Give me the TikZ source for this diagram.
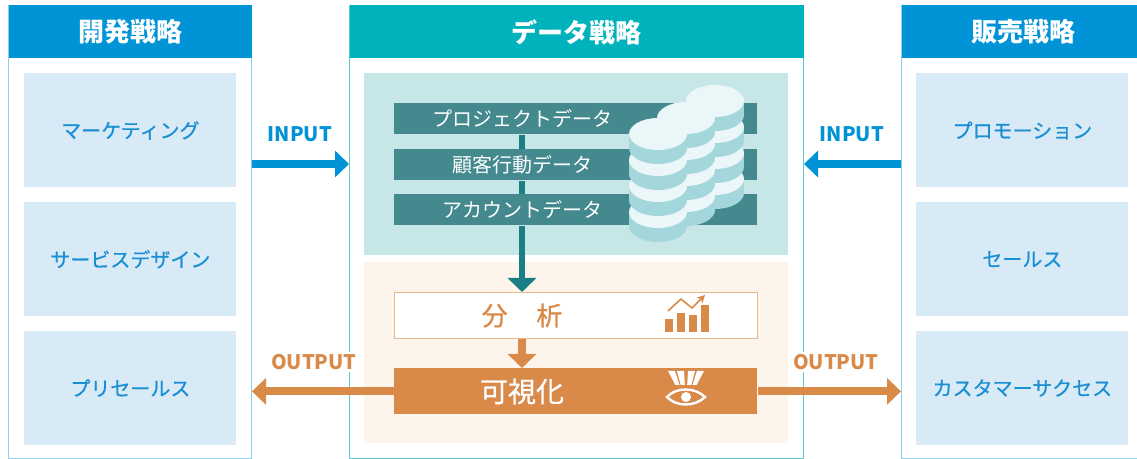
\documentclass[tikz,border=0pt]{standalone}
\usepackage{fontspec}
\setmainfont{Noto Sans CJK JP}
\newfontfamily\medfont{Noto Sans CJK JP}[FakeBold=0.7]
\usetikzlibrary{arrows.meta, positioning, calc}

\definecolor{headblue}{HTML}{0094D6}
\definecolor{headteal}{HTML}{00B2BC}
\definecolor{edgeblue}{HTML}{8ECFEC}
\definecolor{edgecyan}{HTML}{5EC8CF}
\definecolor{itembg}{HTML}{D9EAF7}
\definecolor{itemtxt}{HTML}{1A8FD3}
\definecolor{storebg}{HTML}{C7E6E8}
\definecolor{barteal}{HTML}{43898E}
\definecolor{spineteal}{HTML}{1A7F84}
\definecolor{creambg}{HTML}{FDF5EC}
\definecolor{visorange}{HTML}{D98948}
\definecolor{anaedge}{HTML}{E9B98C}
\definecolor{disctop}{HTML}{EAF6F7}
\definecolor{discside}{HTML}{A3D7DB}

\begin{document}
\begin{tikzpicture}[x=0.5pt, y=-0.5pt, node distance=7pt,
    >={Triangle[width=13pt, length=7pt]},
    panel/.style={draw=#1, line width=0.5pt, anchor=north west, inner sep=0pt,
      minimum width=121.5pt, minimum height=226.5pt},
    header/.style={fill=#1, anchor=north, inner sep=0pt, minimum width=121.5pt,
      minimum height=26.5pt, text=white, font=\bfseries\fontsize{13}{13}\selectfont},
    item/.style={fill=itembg, text=itemtxt, anchor=north west, inner sep=0pt,
      minimum width=106pt, minimum height=57pt, font=\medfont\fontsize{10}{10}\selectfont},
    zone/.style={fill=#1, anchor=north west, inner sep=0pt, minimum width=212pt},
    bar/.style={fill=barteal, anchor=north west, inner sep=0pt,
      minimum width=181.5pt, minimum height=15.5pt},
    bartext/.style={text=white, inner sep=0pt, font=\fontsize{10}{10}\selectfont},
    stepbox/.style={anchor=north west, inner sep=0pt, minimum width=181.5pt,
      minimum height=23pt},
    spineline/.style={draw=spineteal, line width=3pt},
    inarrow/.style={draw=headblue, line width=4pt},
    outarrow/.style={draw=visorange, line width=4pt},
    iolabel/.style={inner sep=1pt, font=\bfseries\fontsize{10}{10}\selectfont}]

  \useasboundingbox (0,0) rectangle (1137,459);

  % three columns
  \node[panel=edgeblue] (dev) at (8,5) {};
  \node[panel=edgecyan, minimum width=227pt] (data) at (349,5) {};
  \node[panel=edgeblue] (sales) at (901,5) {};

  \node[header=headblue] (devhead) at (dev.north) {開発戦略};
  \node[header=headteal, minimum width=227pt] (datahead) at (data.north) {データ戦略};
  \node[header=headblue] (saleshead) at (sales.north) {販売戦略};

  % left and right items
  \node[item] (mkt) at (24,73) {マーケティング};
  \node[item, below=of mkt] (svc) {サービスデザイン};
  \node[item, below=of svc] (presales) {プリセールス};

  \node[item] (promo) at (916,73) {プロモーション};
  \node[item, below=of promo] (sell) {セールス};
  \node[item, below=of sell] (success) {カスタマーサクセス};

  % data column
  \node[zone=storebg, minimum height=91pt] (store) at (364,73) {};
  \node[zone=creambg, minimum height=90.5pt] (work) at (364,262) {};

  \coordinate (spine) at (522,0);

  \node[bar] (proj) at (394,103) {};
  \node[bar] (cust) at (394,149) {};
  \node[bar] (acct) at (394,194) {};

  \node[stepbox, draw=anaedge, line width=0.6pt, fill=white] (ana) at (394,292) {};
  \node[stepbox, fill=visorange] (vis) at (394,368) {};

  \draw[spineline] (proj.south -| spine) -- (cust.north -| spine);
  \draw[spineline] (cust.south -| spine) -- (acct.north -| spine);
  \draw[spineline, ->, >={Triangle[width=14pt, length=7pt]}]
    (acct.south -| spine) -- (ana.north -| spine);
  \draw[outarrow, ->, >={Triangle[width=14pt, length=7pt]}]
    (ana.south -| spine) -- (vis.north -| spine);

  \node[bartext] at (proj -| spine) {プロジェクトデータ};
  \node[bartext] at (cust -| spine) {顧客行動データ};
  \node[bartext] at (acct -| spine) {アカウントデータ};
  \node[text=visorange, inner sep=0pt, font=\medfont\fontsize{13}{13}\selectfont]
    at (ana -| spine) {分\hspace{1.1em}析};
  \node[text=white, inner sep=0pt, font=\medfont\fontsize{14}{14}\selectfont]
    at (vis -| spine) {可視化};

  % database stack
  \foreach \cx/\cy in {715/101, 686/118, 658/134}{
    \foreach \k in {3,2,1,0}{
      \fill[discside] (\cx-29,\cy+26*\k) rectangle (\cx+29,\cy+26*\k+14);
      \fill[discside] (\cx,\cy+26*\k+14) ellipse (29 and 16);
      \fill[disctop] (\cx,\cy+26*\k) ellipse (29 and 16);
    }
  }

  % chart icon
  \foreach \x/\t in {665/319, 677/313, 689/315, 701/305}
    \fill[visorange] (\x,\t) rectangle (\x+8,332);
  \draw[visorange, line width=0.8pt, -{Stealth[length=4pt, width=4pt]}]
    (668,311) -- (681,299) -- (692,308) -- (705,295);

  % eye icon: rays narrow towards the eye
  \foreach \l/\r in {668/675, 677/684, 688/695, 697/704}{
    \fill[white] (\l,371) -- (\r,371) -- ({\r+(686-\r)*14/34},385)
      -- ({\l+(686-\l)*14/34},385) -- cycle;
  }
  \draw[white, line width=1.2pt, fill=visorange] (667,397)
    .. controls (676,387) and (695,387) .. (705,397)
    .. controls (695,407) and (676,407) .. cycle;
  \fill[white] (686,397) circle (5);

  % input and output flows
  \coordinate (inrow) at (0,164);
  \draw[inarrow, ->] (dev.east |- inrow) -- (data.west |- inrow);
  \draw[inarrow, ->] (sales.west |- inrow) -- (data.east |- inrow);
  \draw[outarrow, ->] (vis.west) -- (dev.east |- vis.west);
  \draw[outarrow, ->] (vis.east) -- (sales.west |- vis.east);

  \node[iolabel, text=headblue] at (300,134) {INPUT};
  \node[iolabel, text=headblue] at (852,134) {INPUT};
  \node[iolabel, text=visorange, fill=white] at (314,362) {OUTPUT};
  \node[iolabel, text=visorange, fill=white] at (836,362) {OUTPUT};
\end{tikzpicture}
\end{document}
